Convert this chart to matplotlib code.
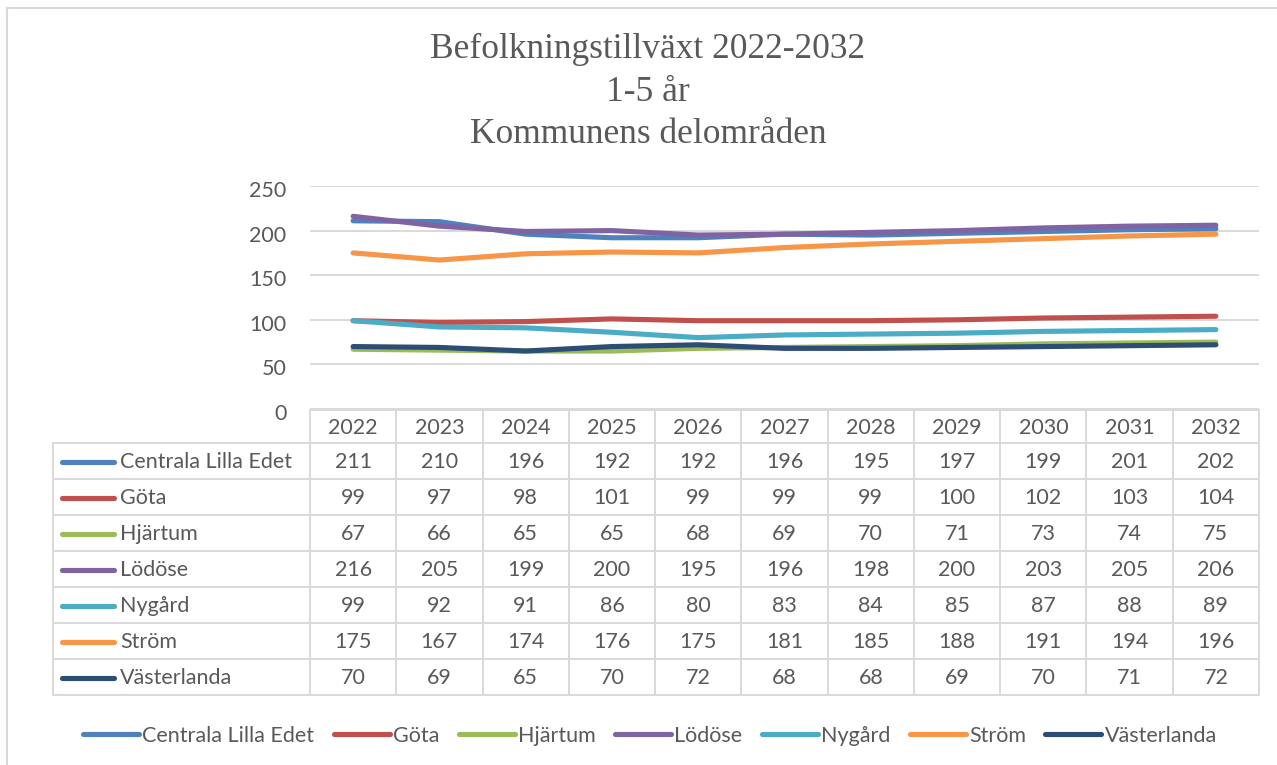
import matplotlib
matplotlib.use("Agg")
import matplotlib.pyplot as plt
from matplotlib.transforms import blended_transform_factory, ScaledTranslation
from matplotlib.lines import Line2D

years = ["2022", "2023", "2024", "2025", "2026", "2027", "2028", "2029", "2030", "2031", "2032"]
series_names = ["Centrala Lilla Edet", "Göta", "Hjärtum", "Lödöse", "Nygård", "Ström", "Västerlanda"]
centrala = [211, 210, 196, 192, 192, 196, 195, 197, 199, 201, 202]
gota = [99, 97, 98, 101, 99, 99, 99, 100, 102, 103, 104]
hjartum = [67, 66, 65, 65, 68, 69, 70, 71, 73, 74, 75]
lodose = [216, 205, 199, 200, 195, 196, 198, 200, 203, 205, 206]
nygard = [99, 92, 91, 86, 80, 83, 84, 85, 87, 88, 89]
strom = [175, 167, 174, 176, 175, 181, 185, 188, 191, 194, 196]
vasterlanda = [70, 69, 65, 70, 72, 68, 68, 69, 70, 71, 72]
values = [centrala, gota, hjartum, lodose, nygard, strom, vasterlanda]
colors = ["#4F81BD", "#C0504D", "#9BBB59", "#8064A2", "#4BACC6", "#F79646", "#2C4D75"]
yticks = [0, 50, 100, 150, 200, 250]
title = "Befolkningstillväxt 2022-2032\n1-5 år\nKommunens delområden"

W, H = 1277, 765
TXT = "#595959"
GRID = "#D9D9D9"
FONT = "Lato"
FS = 15.5

fig = plt.figure(figsize=(W / 100, H / 100), dpi=100)
fig.patch.set_facecolor("white")

# overlay axes in pixel coordinates
ov = fig.add_axes([0, 0, 1, 1])
ov.set_xlim(0, W)
ov.set_ylim(H, 0)
ov.axis("off")

# main plot axes
px_left, px_right, px_top, px_zero = 310, 1259, 186, 409
ax = fig.add_axes([px_left / W, (H - px_zero) / H, (px_right - px_left) / W, (px_zero - px_top) / H])
ax.set_xlim(-0.5, len(years) - 0.5)
ax.set_ylim(0, 250)
ax.set_yticks(yticks)
ax.set_xticks([])
for s in ax.spines.values():
    s.set_visible(False)
ax.tick_params(axis="y", length=0, pad=17, labelsize=FS, labelcolor=TXT)
shift = ScaledTranslation(0, -3 / 100, fig.dpi_scale_trans)
for lab in ax.get_yticklabels():
    lab.set_fontfamily(FONT)
    lab.set_transform(lab.get_transform() + shift)
ax.grid(axis="y", color=GRID, linewidth=1.4)
ax.set_axisbelow(True)
ax.patch.set_alpha(0)

xs = list(range(len(years)))
handles = []
for name, vals, c in zip(series_names, values, colors):
    h, = ax.plot(xs, vals, color=c, linewidth=3.7, solid_capstyle="round", solid_joinstyle="round", label=name, clip_on=False)
    handles.append(h)

# title
fig.text(648 / W, 1 - 92 / H, title, ha="center", va="center", fontsize=25.5,
         fontfamily="Liberation Serif", color=TXT, linespacing=1.38)

# outer border (top and left visible)
ov.add_line(Line2D([7, W + 5], [8, 8], color=GRID, linewidth=1.5))
ov.add_line(Line2D([7, 7], [8, H + 5], color=GRID, linewidth=1.5))

# data table
bt = blended_transform_factory(ax.transData, ov.transData)
header_top = 410
row_edges = [443, 479, 515, 551, 587, 623, 659, 695]
table_left = 53
lw = 1.4
ov.add_line(Line2D([px_left, px_right], [header_top, header_top], color=GRID, linewidth=lw))
for y in row_edges:
    ov.add_line(Line2D([table_left, px_right], [y, y], color=GRID, linewidth=lw))
ov.add_line(Line2D([table_left, table_left], [row_edges[0], row_edges[-1]], color=GRID, linewidth=lw))
for i in range(len(years) + 1):
    ov.add_line(Line2D([i - 0.5, i - 0.5], [header_top, row_edges[-1]], color=GRID, linewidth=lw, transform=bt))
for i, yr in enumerate(years):
    ov.text(i, (header_top + row_edges[0]) / 2 + 1, yr, transform=bt, ha="center", va="center",
            fontsize=FS, fontfamily=FONT, color=TXT)
for r, (name, vals, c) in enumerate(zip(series_names, values, colors)):
    yc = (row_edges[r] + row_edges[r + 1]) / 2 + 1
    ov.add_line(Line2D([62, 114], [yc, yc], color=c, linewidth=3.7, solid_capstyle="round"))
    ov.text(120, yc, name, ha="left", va="center", fontsize=FS, fontfamily=FONT, color=TXT)
    for i, v in enumerate(vals):
        ov.text(i, yc, str(v), transform=bt, ha="center", va="center", fontsize=FS, fontfamily=FONT, color=TXT)

# legend
leg = fig.legend(handles=handles, labels=series_names, loc="center", bbox_to_anchor=(650 / W, 1 - 736 / H),
                 ncol=7, frameon=False, handlelength=2.6, handletextpad=0.15, columnspacing=0.9,
                 prop={"family": FONT, "size": FS})
for t in leg.get_texts():
    t.set_color(TXT)

fig.savefig("out.png", dpi=100, facecolor="white")
